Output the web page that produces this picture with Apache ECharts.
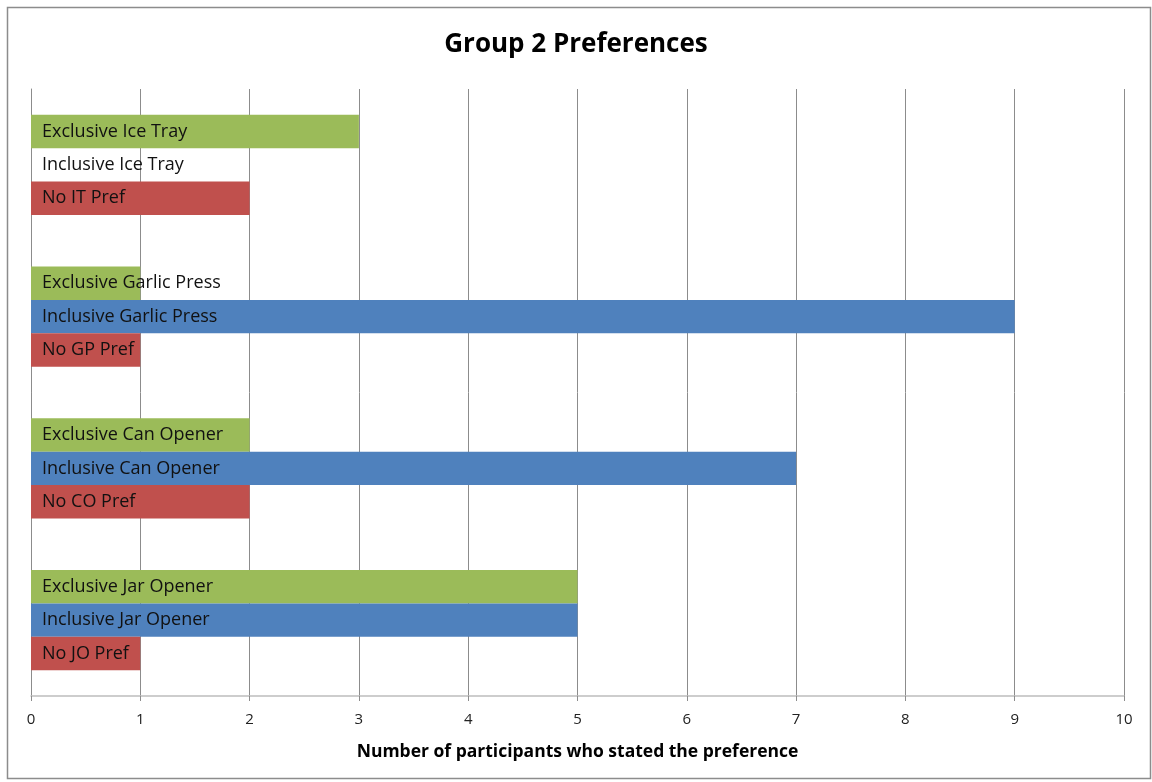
<!DOCTYPE html>
<html>
<head>
<meta charset="utf-8">
<script src="https://cdn.jsdelivr.net/npm/echarts@6/dist/echarts.min.js"></script>
<style>
  html, body { margin: 0; padding: 0; background: #fff; }
  #chart { width: 1152px; height: 782px; }
</style>
</head>
<body>
<div id="chart"></div>
<script>
// categories bottom to top
const products = ['Jar Opener', 'Can Opener', 'Garlic Press', 'Ice Tray'];

const exclusiveValues = [5, 2, 1, 3];
const inclusiveValues = [5, 7, 9, 0];
const noPrefValues = [1, 2, 1, 2];

const exclusiveLabels = ['Exclusive Jar Opener', 'Exclusive Can Opener', 'Exclusive Garlic Press', 'Exclusive Ice Tray'];
const inclusiveLabels = ['Inclusive Jar Opener', 'Inclusive Can Opener', 'Inclusive Garlic Press', 'Inclusive Ice Tray'];
const noPrefLabels = ['No JO Pref', 'No CO Pref', 'No GP Pref', 'No IT Pref'];

const xTicks = [0, 1, 2, 3, 4, 5, 6, 7, 8, 9, 10];

const font = '"Open Sans", "Noto Sans", sans-serif';

const chart = echarts.init(document.getElementById('chart'));

const makeSeries = (name, values, labels, color) => ({
  name: name,
  type: 'bar',
  barGap: '0%',
  barCategoryGap: '34%',
  itemStyle: { color: color },
  data: values.map((v, i) => ({ value: v, labelText: labels[i] })),
  label: {
    show: true,
    position: 'insideLeft',
    distance: 11,
    color: '#111',
    fontFamily: font,
    fontSize: 18,
    formatter: (p) => p.data.labelText
  }
});

chart.setOption({
  animation: false,
  title: {
    text: 'Group 2 Preferences',
    left: 'center',
    top: 27,
    textStyle: { fontFamily: font, fontSize: 26, fontWeight: 'bold', color: '#000' }
  },
  graphic: [{
    type: 'rect',
    shape: { x: 7.5, y: 7.5, width: 1143, height: 771 },
    style: { fill: 'none', stroke: '#8c8c8c', lineWidth: 1.5 },
    silent: true,
    z: -1
  }],
  grid: { left: 31, right: 28, top: 89, bottom: 86, containLabel: false },
  xAxis: {
    type: 'value',
    min: 0,
    max: 10,
    interval: 1,
    name: 'Number of participants who stated the preference',
    nameLocation: 'middle',
    nameGap: 47,
    nameTextStyle: { fontFamily: font, fontSize: 17.5, fontWeight: 'bold', color: '#000' },
    axisLine: { show: true, lineStyle: { color: '#bdbdbd', width: 1.5 } },
    axisTick: { show: true, length: 5, lineStyle: { color: '#8c8c8c' } },
    axisLabel: {
      fontFamily: font, fontSize: 15, color: '#222', margin: 16,
      formatter: (v) => xTicks.includes(v) ? String(v) : ''
    },
    splitLine: { show: true, lineStyle: { color: '#8c8c8c', width: 1 } }
  },
  yAxis: {
    type: 'category',
    data: products,
    axisLine: { show: true, lineStyle: { color: '#8c8c8c', width: 1 } },
    axisTick: { show: false },
    axisLabel: { show: false }
  },
  // first series sits at the top of each group
  series: [
    makeSeries('Exclusive', exclusiveValues, exclusiveLabels, '#9BBB59'),
    makeSeries('Inclusive', inclusiveValues, inclusiveLabels, '#4F81BD'),
    makeSeries('No Pref', noPrefValues, noPrefLabels, '#C0504D')
  ]
});
</script>
</body>
</html>
